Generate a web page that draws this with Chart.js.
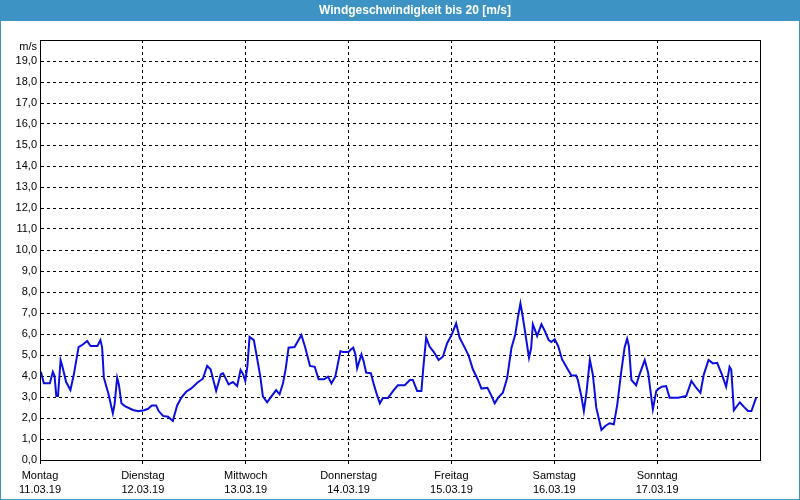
<!DOCTYPE html>
<html>
<head>
<meta charset="utf-8">
<script src="https://cdn.jsdelivr.net/npm/chart.js@4.4.1/dist/chart.umd.min.js"></script>
<style>
  html, body { margin: 0; padding: 0; background: #fff; }
  #wind { display: block; }
</style>
</head>
<body>
<canvas id="wind" width="800" height="500"></canvas>
<script>
  // hours since Monday 11.03.19 00:00
  const hours = [
    0.2, 0.9, 2.3, 3.0, 3.4, 3.8, 4.2, 4.8, 5.2, 6.1, 7.1, 7.9, 9.0, 10.0, 11.0, 11.8, 13.4, 14.1, 14.5, 14.9,
    16.0, 17.0, 17.4, 18.0, 18.4, 19.0, 19.8, 21.7, 22.9, 24.3, 25.2, 26.1, 27.1, 27.7, 28.7, 29.9, 30.4, 31.0, 31.4, 32.0,
    33.0, 34.1, 35.3, 36.7, 38.0, 39.0, 39.8, 41.1, 42.2, 42.7, 43.1, 44.0, 45.0, 46.0, 46.8, 47.4, 47.9, 48.4, 48.9, 49.9,
    50.7, 51.4, 52.0, 53.0, 54.0, 55.1, 55.9, 56.7, 57.3, 58.0, 59.4, 60.2, 61.0, 61.9, 63.0, 64.1, 65.0, 66.3, 67.2, 68.0,
    68.9, 70.1, 70.7, 72.0, 72.6, 73.1, 73.6, 74.0, 75.0, 75.5, 76.1, 77.2, 77.9, 78.7, 79.3, 80.0, 81.2, 82.4, 83.5, 85.1,
    86.3, 87.0, 88.0, 89.0, 89.4, 90.1, 90.9, 91.9, 93.0, 94.0, 95.0, 96.1, 97.1, 97.9, 99.1, 100.0, 101.0, 102.2, 103.0, 104.4,
    105.3, 106.1, 106.9, 108.0, 109.0, 110.0, 110.9, 111.5, 112.1, 112.5, 113.1, 114.1, 114.6, 115.0, 115.6, 116.0, 117.0, 117.8, 118.7, 119.3,
    120.1, 120.9, 121.8, 122.8, 124.0, 125.1, 125.5, 126.3, 126.9, 127.5, 128.3, 129.0, 129.8, 131.0, 131.9, 132.9, 133.9, 134.7, 135.6, 136.4,
    137.0, 137.4, 138.0, 139.1, 139.9, 141.1, 141.9, 143.0, 143.8, 144.4, 145.1, 146.1, 146.9, 148.9, 150.8, 152.0, 153.1, 154.1, 154.9, 156.0,
    157.0, 158.0, 159.1, 160.1, 160.9, 161.3, 161.9, 163.3, 164.3, 165.2, 166.0, 167.1
  ];
  const speed = [
    4.2, 3.65, 3.65, 4.2, 4.0, 3.05, 3.05, 4.76, 4.48, 3.71, 3.33, 4.08, 5.38, 5.5, 5.67, 5.43, 5.43, 5.71, 5.35, 3.92,
    3.13, 2.22, 2.65, 3.92, 3.6, 2.7, 2.57, 2.38, 2.32, 2.37, 2.44, 2.6, 2.6, 2.33, 2.1, 2.06, 1.97, 1.86, 2.17, 2.6,
    2.97, 3.25, 3.41, 3.68, 3.87, 4.48, 4.32, 3.29, 4.08, 4.13, 3.98, 3.6, 3.71, 3.52, 4.29, 4.08, 3.76, 4.48, 5.86, 5.71,
    4.79, 3.98, 3.03, 2.75, 3.03, 3.33, 3.13, 3.65, 4.3, 5.35, 5.38, 5.67, 5.95, 5.35, 4.48, 4.44, 3.84, 3.84, 3.97, 3.65,
    3.97, 5.19, 5.14, 5.14, 5.27, 5.35, 5.03, 4.37, 5.03, 4.71, 4.16, 4.13, 3.6, 3.05, 2.7, 2.95, 2.95, 3.29, 3.56, 3.56,
    3.81, 3.81, 3.29, 3.29, 4.3, 5.83, 5.4, 5.14, 4.76, 4.92, 5.56, 5.98, 6.51, 5.83, 5.35, 4.98, 4.32, 3.81, 3.4, 3.44,
    3.08, 2.7, 2.97, 3.2, 3.9, 5.33, 5.98, 6.78, 7.46, 7.0, 6.22, 4.87, 5.33, 6.46, 6.14, 5.9, 6.46, 6.14, 5.71, 5.62,
    5.75, 5.43, 4.8, 4.44, 4.02, 4.02, 3.81, 3.05, 2.33, 3.2, 4.78, 4.06, 2.49, 1.43, 1.62, 1.75, 1.7, 2.65, 4.16, 5.35,
    5.78, 5.43, 3.81, 3.56, 4.08, 4.76, 4.16, 2.41, 3.29, 3.4, 3.49, 3.52, 2.97, 2.97, 3.05, 3.76, 3.44, 3.2, 4.08, 4.76,
    4.6, 4.63, 4.08, 3.49, 4.44, 4.3, 2.37, 2.75, 2.52, 2.33, 2.33, 2.97
  ];
  const dayNames = ['Montag', 'Dienstag', 'Mittwoch', 'Donnerstag', 'Freitag', 'Samstag', 'Sonntag'];
  const dayDates = ['11.03.19', '12.03.19', '13.03.19', '14.03.19', '15.03.19', '16.03.19', '17.03.19'];

  const frame = {
    id: 'frame',
    afterLayout(chart) {
      // title text sits a bit right of centre in the original
      if (chart.titleBlock) chart.titleBlock.left += 30;
    },
    beforeDraw(chart) {
      const ctx = chart.ctx;
      ctx.save();
      ctx.fillStyle = '#3e93c5';
      ctx.fillRect(0, 0, chart.width, 21);
      ctx.restore();
    },
    afterDraw(chart) {
      const ctx = chart.ctx;
      const a = chart.chartArea;
      ctx.save();
      ctx.strokeStyle = '#000';
      ctx.lineWidth = 1;
      ctx.strokeRect(Math.round(a.left) + 0.5, Math.round(a.top) + 0.5,
        Math.round(a.right - a.left), Math.round(a.bottom - a.top));
      ctx.strokeStyle = '#3e93c5';
      ctx.strokeRect(0.5, 0.5, chart.width - 1, chart.height - 1);
      ctx.restore();
    }
  };

  new Chart(document.getElementById('wind'), {
    type: 'line',
    data: {
      datasets: [{
        data: hours.map((h, i) => ({ x: h, y: speed[i] })),
        borderColor: '#0a0fe0',
        borderWidth: 2,
        pointRadius: 0,
        tension: 0,
        fill: false
      }]
    },
    options: {
      responsive: false,
      animation: false,
      devicePixelRatio: 1,
      layout: { padding: 0 },
      plugins: {
        legend: { display: false },
        tooltip: { enabled: false },
        title: {
          display: true,
          text: 'Windgeschwindigkeit bis 20 [m/s]',
          color: '#fff',
          font: { family: 'Liberation Sans', size: 12, weight: 'bold', lineHeight: 1.2 },
          padding: { top: 3, bottom: 22.6 }
        }
      },
      scales: {
        x: {
          type: 'linear',
          min: 0,
          max: 168,
          afterFit: s => { s.height = 40; },
          grid: {
            color: '#000', lineWidth: 1, tickLength: 4,
            tickColor: c => (c.tick && c.tick.value === 168) ? 'rgba(0,0,0,0)' : '#000'
          },
          border: { color: '#000', dash: [3, 3] },
          ticks: {
            stepSize: 24,
            autoSkip: false,
            maxRotation: 0,
            padding: 5,
            color: '#000',
            font: { family: 'Liberation Sans', size: 11, lineHeight: 1.3 },
            callback: (v) => {
              const i = Math.round(v / 24);
              return i < dayNames.length ? [dayNames[i], dayDates[i]] : '';
            }
          }
        },
        y: {
          min: 0,
          max: 20,
          afterFit: s => { s.width = 40; },
          grid: { color: '#000', lineWidth: 1, drawTicks: false },
          border: { color: '#000', dash: [3, 3] },
          ticks: {
            stepSize: 1,
            autoSkip: false,
            padding: 3,
            color: '#000',
            font: { family: 'Liberation Sans', size: 11, lineHeight: 1.2 },
            callback: v => v === 20 ? ['', 'm/s'] : v.toFixed(1).replace('.', ',')
          }
        },
        y2: {
          position: 'right',
          min: 0,
          max: 20,
          afterFit: s => { s.width = 40; },
          grid: { drawOnChartArea: false, drawTicks: false },
          border: { display: false },
          ticks: { display: false }
        }
      }
    },
    plugins: [frame]
  });
</script>
</body>
</html>
